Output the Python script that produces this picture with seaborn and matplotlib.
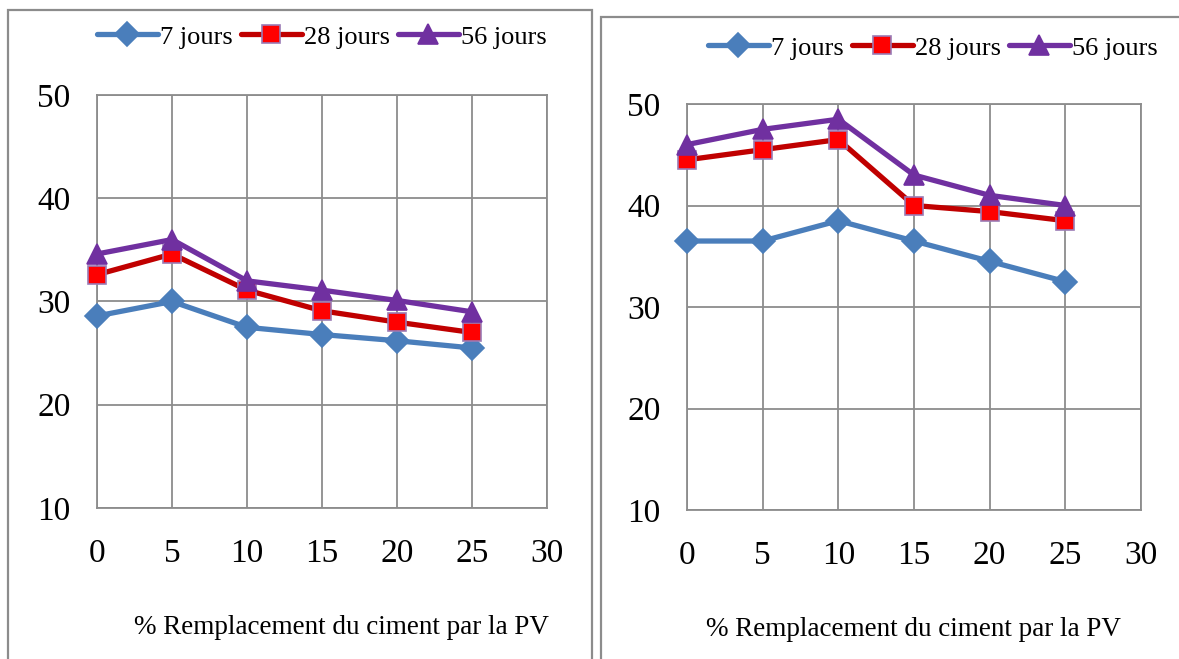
import matplotlib
matplotlib.use("Agg")
import matplotlib.pyplot as plt
import seaborn as sns
import pandas as pd
from matplotlib.patches import Rectangle

sns.set_theme(style="white")
plt.rcParams['font.family'] = ['Liberation Serif', 'DejaVu Serif']
plt.rcParams['text.color'] = 'black'
plt.rcParams['xtick.color'] = 'black'
plt.rcParams['ytick.color'] = 'black'

x_vals = [0, 5, 10, 15, 20, 25]
series_names = ["7 jours", "28 jours", "56 jours"]

left_7 = [28.6, 30.0, 27.5, 26.8, 26.2, 25.5]
left_28 = [32.6, 34.6, 31.1, 29.1, 28.0, 27.0]
left_56 = [34.6, 36.0, 32.0, 31.1, 30.1, 29.0]

right_7 = [36.5, 36.5, 38.5, 36.5, 34.5, 32.5]
right_28 = [44.5, 45.5, 46.5, 40.0, 39.4, 38.5]
right_56 = [46.0, 47.5, 48.5, 43.0, 41.0, 40.0]

x_ticks = [0, 5, 10, 15, 20, 25, 30]
y_ticks = [10, 20, 30, 40, 50]
x_label = "% Remplacement du ciment par la PV"

styles = {
    "7 jours": dict(color="#4A7EBB", marker="D", markersize=12, mfc="#4A7EBB", mec="#4A7EBB"),
    "28 jours": dict(color="#C00000", marker="s", markersize=13, mfc="#FF0000", mec="#9B7BB5"),
    "56 jours": dict(color="#7030A0", marker="^", markersize=14, mfc="#7030A0", mec="#7030A0"),
}

fig = plt.figure(figsize=(11.79, 6.59), dpi=100)

# panel borders
fig.add_artist(Rectangle((8/1179, -0.1), (592-8)/1179, 1.1 - 10/659,
                         transform=fig.transFigure, fill=False, edgecolor="#8C8C8C", lw=1.6))
fig.add_artist(Rectangle((601/1179, -0.1), 0.6, 1.1 - 17/659,
                         transform=fig.transFigure, fill=False, edgecolor="#8C8C8C", lw=1.6))

panels = [
    dict(rect=[97/1179, 1-508/659, (547-97)/1179, (508-95)/659],
         data=[left_7, left_28, left_56], leg=(322/1179, 37/659), xl=(341/1179, 627/659)),
    dict(rect=[687/1179, 1-510/659, (1141-687)/1179, (510-104)/659],
         data=[right_7, right_28, right_56], leg=(933/1179, 48/659), xl=(913/1179, 630/659)),
]

for p in panels:
    ax = fig.add_axes(p["rect"])
    for name, vals in zip(series_names, p["data"]):
        df = pd.DataFrame({"x": x_vals, "y": vals})
        st = styles[name]
        sns.lineplot(data=df, x="x", y="y", ax=ax, color=st["color"], lw=3.8,
                     marker=st["marker"], markersize=st["markersize"],
                     markerfacecolor=st["mfc"], markeredgecolor=st["mec"],
                     markeredgewidth=1.2, label=name, zorder=3, clip_on=False)
    ax.set_xlim(0, 30)
    ax.set_ylim(10, 50)
    ax.set_xticks(x_ticks)
    ax.set_yticks(y_ticks)
    ax.tick_params(axis="x", labelsize=24, pad=22, length=0, labelcolor="black")
    ax.tick_params(axis="y", labelsize=24, pad=19, length=0, labelcolor="black")
    ax.grid(True, color="#8C8C8C", lw=1.3)
    for s in ax.spines.values():
        s.set_color("#8C8C8C")
        s.set_linewidth(1.3)
    ax.set_xlabel("")
    ax.set_ylabel("")
    ax.legend_.remove()
    handles, labels = ax.get_legend_handles_labels()
    fig.legend(handles, labels, loc="center", bbox_to_anchor=(p["leg"][0], 1 - p["leg"][1]),
               ncol=3, frameon=False, fontsize=19, handlelength=2.3, handletextpad=0.1,
               columnspacing=0.3, borderaxespad=0, labelcolor="black")
    fig.text(p["xl"][0], 1 - p["xl"][1], x_label, ha="center", va="center", fontsize=19.5,
             color="black")

fig.savefig("out.png", dpi=100)
